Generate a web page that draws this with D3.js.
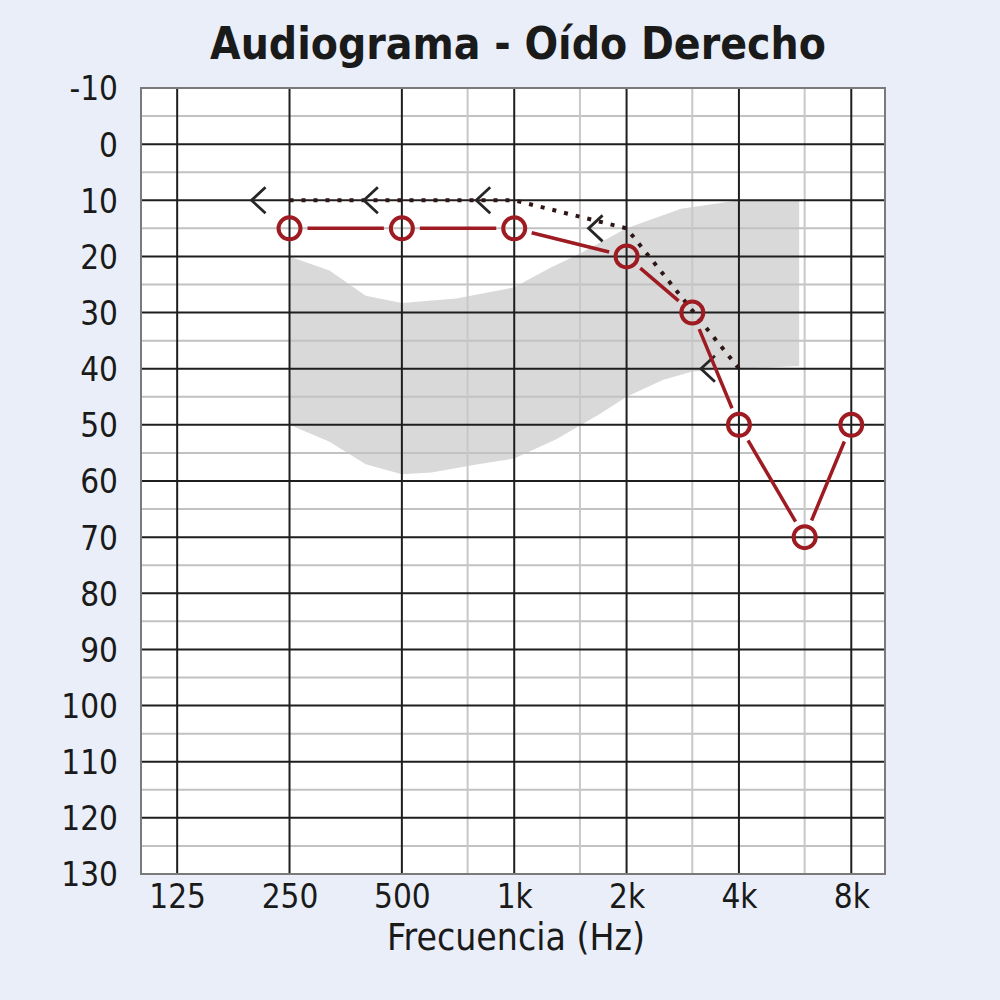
<!DOCTYPE html>
<html><head><meta charset="utf-8">
<script src="https://cdn.jsdelivr.net/npm/d3@7"></script>
<style>
body{margin:0;background:#e9eef8;}
svg{display:block}
.lbl{font-family:"DejaVu Sans Condensed","DejaVu Sans",sans-serif;font-stretch:condensed;fill:#1a1a1a;}
</style>
</head><body>
<svg id="c" width="1000" height="1000"></svg>
<script>
// ---- data ----
const chartTitle = "Audiograma - Oído Derecho";
const xTitle = "Frecuencia (Hz)";
const freqTicks = [125, 250, 500, 1000, 2000, 4000, 8000];
const freqTickLabels = ["125", "250", "500", "1k", "2k", "4k", "8k"];
const halfOctaveFreqs = [750, 1500, 3000, 6000];
const dbTicks = [-10, 0, 10, 20, 30, 40, 50, 60, 70, 80, 90, 100, 110, 120, 130];
const dbTickLabels = ["-10", "0", "10", "20", "30", "40", "50", "60", "70", "80", "90", "100", "110", "120", "130"];
const dbMinorLines = [-5, 5, 15, 25, 35, 45, 55, 65, 75, 85, 95, 105, 115, 125];
const airFreq = [250, 500, 1000, 2000, 3000, 4000, 6000, 8000];
const airDb = [15, 15, 15, 20, 30, 50, 70, 50];
const boneFreq = [250, 500, 1000, 2000, 4000];
const boneDb = [10, 10, 10, 15, 40];
const bandTopFreq = [250, 320, 400, 500, 700, 1000, 1250, 1500, 2000, 2800, 4000, 5800];
const bandTopDb = [20, 22.5, 27, 28.3, 27.5, 25.5, 22, 19.5, 15, 11.5, 10, 10];
const bandBottomFreq = [250, 320, 400, 500, 600, 800, 1000, 1300, 1700, 2000, 2500, 3000, 4000, 5800];
const bandBottomDb = [50, 53, 57, 58.8, 58.5, 57, 56, 52.5, 48, 45, 42, 40.5, 40, 39.5];

// ---- layout ----
const svg = d3.select("#c");
const L = 141, R = 885, T = 88, B = 874;
const x = d3.scaleLog().domain([100, 9850]).range([L, R]);
const y = d3.scaleLinear().domain([-10, 130]).range([T, B]);
const red = "#9e1b22";

svg.append("rect").attr("x", L).attr("y", T).attr("width", R - L).attr("height", B - T).attr("fill", "#fff");

// band
const bandPts = bandTopFreq.map((f, i) => [x(f), y(bandTopDb[i])])
  .concat(bandBottomFreq.map((f, i) => [x(f), y(bandBottomDb[i])]).reverse());
svg.append("path").attr("d", d3.line()(bandPts) + "Z").attr("fill", "#d9d9d9");

// grid
const g = svg.append("g");
g.selectAll(".hmin").data(dbMinorLines).join("line")
  .attr("x1", L).attr("x2", R).attr("y1", d => y(d)).attr("y2", d => y(d))
  .attr("stroke", "#c2c2c2").attr("stroke-width", 2);
g.selectAll(".vmin").data(halfOctaveFreqs).join("line")
  .attr("y1", T).attr("y2", B).attr("x1", d => x(d)).attr("x2", d => x(d))
  .attr("stroke", "#c8c8c8").attr("stroke-width", 2);
g.selectAll(".hmaj").data(dbTicks.slice(1, -1)).join("line")
  .attr("x1", L).attr("x2", R).attr("y1", d => y(d)).attr("y2", d => y(d))
  .attr("stroke", "#1e1e1e").attr("stroke-width", 2);
g.selectAll(".vmaj").data(freqTicks).join("line")
  .attr("y1", T).attr("y2", B).attr("x1", d => x(d)).attr("x2", d => x(d))
  .attr("stroke", "#1e1e1e").attr("stroke-width", 2);
svg.append("rect").attr("x", L).attr("y", T).attr("width", R - L).attr("height", B - T)
  .attr("fill", "none").attr("stroke", "#7a7a7a").attr("stroke-width", 2);

// axes
const ay = svg.append("g").attr("transform", `translate(${L},0)`)
  .call(d3.axisLeft(y).tickValues(dbTicks).tickFormat((d, i) => dbTickLabels[i]).tickSize(0).tickPadding(23));
ay.select(".domain").remove();
ay.selectAll("text").attr("class", "lbl").attr("font-size", 33).attr("dy", "0.36em");

const ax = svg.append("g").attr("transform", `translate(0,${B})`)
  .call(d3.axisBottom(x).tickValues(freqTicks).tickFormat((d, i) => freqTickLabels[i]).tickSize(0).tickPadding(11));
ax.select(".domain").remove();
ax.selectAll("text").attr("class", "lbl").attr("font-size", 33);

svg.append("text").attr("class", "lbl").attr("x", 516).attr("y", 950)
  .attr("text-anchor", "middle").attr("font-size", 37).text(xTitle);
svg.append("text").attr("class", "lbl").attr("x", 518).attr("y", 59)
  .attr("text-anchor", "middle").attr("font-size", 44).attr("font-weight", "bold")
  .attr("fill", "#111").text(chartTitle);

// bone conduction dotted line + markers
const bonePts = boneFreq.map((f, i) => [x(f), y(boneDb[i])]);
svg.append("path").attr("d", d3.line()(bonePts)).attr("fill", "none")
  .attr("stroke", "#2e1616").attr("stroke-width", 4).attr("stroke-dasharray", "4,8");
svg.selectAll(".bone").data(bonePts).join("path")
  .attr("d", d => { const cx = d[0] - 31, cy = d[1]; return `M${cx + 7},${cy - 13}L${cx - 7},${cy}L${cx + 7},${cy + 13}`; })
  .attr("fill", "none").attr("stroke", "#262626").attr("stroke-width", 2.8);

// air conduction
const airPts = airFreq.map((f, i) => [x(f), y(airDb[i])]);
const segs = d3.pairs(airPts);
const gap = 18;
svg.selectAll(".seg").data(segs).join("line")
  .each(function ([a, b]) {
    const dx = b[0] - a[0], dy = b[1] - a[1], len = Math.hypot(dx, dy);
    const ux = dx / len, uy = dy / len;
    d3.select(this).attr("x1", a[0] + ux * gap).attr("y1", a[1] + uy * gap)
      .attr("x2", b[0] - ux * gap).attr("y2", b[1] - uy * gap);
  })
  .attr("stroke", red).attr("stroke-width", 3.5);
svg.selectAll(".air").data(airPts).join("circle")
  .attr("cx", d => d[0]).attr("cy", d => d[1]).attr("r", 11)
  .attr("fill", "none").attr("stroke", red).attr("stroke-width", 4);
</script>
</body></html>
